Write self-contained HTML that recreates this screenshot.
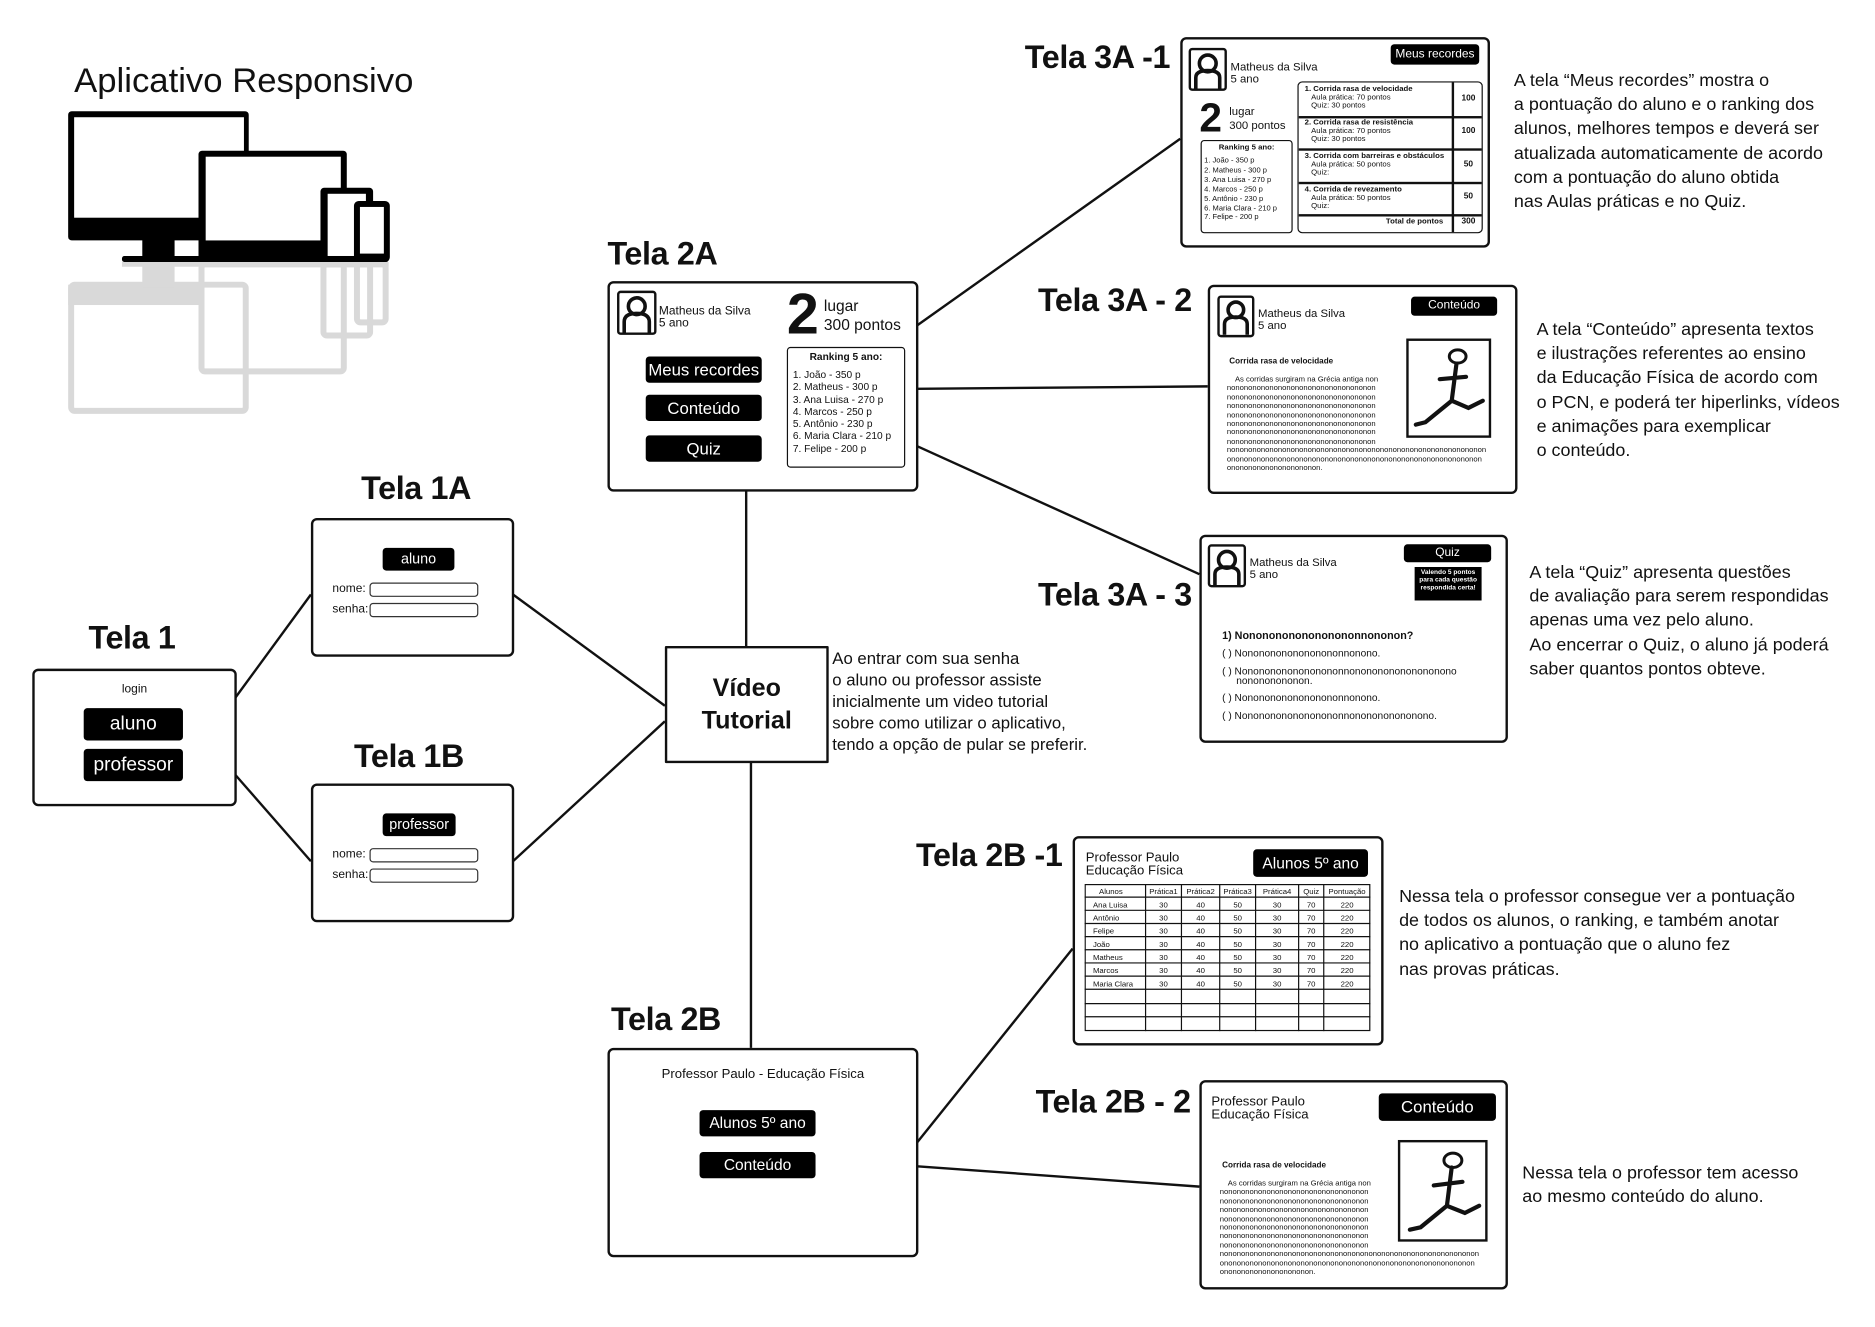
<!DOCTYPE html>
<html><head><meta charset="utf-8"><style>
html,body{margin:0;padding:0;background:#fff;width:1875px;height:1326px;overflow:hidden}
#c{position:absolute;left:0;top:0;width:1568px;height:1109px;transform:scale(1.1958,1.1962);transform-origin:0 0;font-family:"Liberation Sans Narrow","Liberation Sans",sans-serif;color:#111}
.a{position:absolute}
.box{position:absolute;border:2px solid #111;border-radius:5px;background:#fff;box-sizing:border-box}
.lbl{position:absolute;font-family:"Liberation Sans Narrow","Liberation Sans",sans-serif;font-weight:bold;font-size:27px;white-space:nowrap;letter-spacing:-0.3px}
.btn{position:absolute;background:#000;color:#fff;border-radius:3px;text-align:center;white-space:nowrap}
.t{position:absolute;white-space:nowrap}
.note{position:absolute;font-size:15px;line-height:20.2px;white-space:nowrap}
.inp{position:absolute;border:1px solid #333;border-radius:3px;height:10px;width:89px}
.av{position:absolute;border:2px solid #111;border-radius:3px;box-sizing:border-box}
.filler{position:absolute;font-size:6.4px;line-height:7.4px;white-space:pre}
</style></head><body><div id="c">
<svg class="a" style="left:0;top:0" width="1560" height="1103">
<g stroke="#111" stroke-width="2" fill="none">
<line x1="197" y1="583" x2="260" y2="497"/>
<line x1="197" y1="648" x2="260" y2="720"/>
<line x1="429" y1="497" x2="556" y2="590"/>
<line x1="429" y1="720" x2="556" y2="603"/>
<line x1="624" y1="540" x2="624" y2="410"/>
<line x1="628" y1="637" x2="628" y2="876"/>
<line x1="767" y1="272" x2="987" y2="116"/>
<line x1="767" y1="325" x2="1010" y2="323"/>
<line x1="767" y1="373" x2="1003" y2="480"/>
<line x1="767" y1="955" x2="897" y2="793"/>
<line x1="767" y1="975" x2="1003" y2="992"/>
</g>
<g stroke="#d9d9d9" stroke-width="5" fill="none">
<rect x="59.5" y="238" width="146" height="105.5" rx="3"/>
<rect x="168.5" y="221" width="119" height="89.5" rx="3"/>
<rect x="270.5" y="221" width="39" height="59.5" rx="3"/>
<rect x="298.5" y="221" width="24" height="48.5" rx="3"/>
</g>
<g fill="#d9d9d9">
<rect x="57" y="238" width="111" height="17"/>
<rect x="119" y="219" width="27" height="21"/>
<rect x="102" y="219" width="223" height="4"/>
</g>
<rect x="57" y="93" width="151" height="108" rx="3" fill="#000"/>
<rect x="62" y="98" width="142" height="84" fill="#fff"/>
<rect x="119" y="200" width="27" height="18" fill="#000"/>
<rect x="102" y="214" width="223" height="5" rx="2" fill="#000"/>
<rect x="166" y="126" width="124" height="93" rx="3" fill="#000"/>
<rect x="172" y="131" width="113" height="70" fill="#fff"/>
<rect x="268" y="157" width="44" height="62" rx="3" fill="#000"/>
<rect x="274" y="162" width="32" height="52" fill="#fff"/>
<rect x="296" y="168" width="30" height="51" rx="4" fill="#000"/>
<rect x="301" y="173" width="20" height="39" fill="#fff"/>
</svg>

<div class="t" style="left:62px;top:52px;font-size:29px">Aplicativo Responsivo</div>

<div class="lbl" style="left:74px;top:518px">Tela 1</div>
<div class="box" style="left:27px;top:559px;width:171px;height:115px"></div>
<div class="t" style="left:27px;top:571px;width:171px;text-align:center;font-size:10px">login</div>
<div class="btn" style="left:70px;top:592px;width:83px;height:27px;line-height:27px;font-size:16px">aluno</div>
<div class="btn" style="left:70px;top:626px;width:83px;height:27px;line-height:27px;font-size:16px">professor</div>

<div class="lbl" style="left:302px;top:393px">Tela 1A</div>
<div class="box" style="left:260px;top:433px;width:170px;height:116px"></div>
<div class="btn" style="left:320px;top:458px;width:60px;height:19px;line-height:19px;font-size:12px">aluno</div>
<div class="t" style="left:278px;top:487px;font-size:10px">nome:</div><div class="inp" style="left:309px;top:487px"></div>
<div class="t" style="left:278px;top:504px;font-size:10px">senha:</div><div class="inp" style="left:309px;top:504px"></div>

<div class="lbl" style="left:296px;top:617px">Tela 1B</div>
<div class="box" style="left:260px;top:655px;width:170px;height:116px"></div>
<div class="btn" style="left:320px;top:680px;width:61px;height:19px;line-height:19px;font-size:12px">professor</div>
<div class="t" style="left:278px;top:709px;font-size:10px">nome:</div><div class="inp" style="left:309px;top:709px"></div>
<div class="t" style="left:278px;top:726px;font-size:10px">senha:</div><div class="inp" style="left:309px;top:726px"></div>

<div class="box" style="left:556px;top:540px;width:137px;height:98px;border-radius:1px"></div>
<div class="t" style="left:556px;top:562px;width:137px;text-align:center;font-weight:bold;font-size:21px;line-height:27px">Vídeo<br>Tutorial</div>
<div class="note" style="left:696px;top:541px;font-size:14px;line-height:18px">Ao entrar com sua senha<br>o aluno ou professor assiste<br>inicialmente um video tutorial<br>sobre como utilizar o aplicativo,<br>tendo a opção de pular se preferir.</div>

<div class="lbl" style="left:508px;top:197px">Tela 2A</div>
<div class="box" style="left:508px;top:235px;width:260px;height:176px"></div>
<div class="av" style="left:516px;top:243px;width:33px;height:37px"><svg width="29" height="33"><circle cx="14.5" cy="11" r="7" fill="none" stroke="#111" stroke-width="3"/><path d="M4 33 V24 Q4 17 14.5 17 Q25 17 25 24 V33" fill="none" stroke="#111" stroke-width="3"/></svg></div>
<div class="t" style="left:551px;top:256px;font-size:10px;line-height:10px">Matheus da Silva<br>5 ano</div>
<div class="t" style="left:658px;top:236px;font-size:48px;font-weight:bold;font-family:'Liberation Sans',sans-serif">2</div>
<div class="t" style="left:689px;top:248px;font-size:13px;line-height:16px">lugar<br>300 pontos</div>
<div class="btn" style="left:540px;top:298px;width:97px;height:22px;line-height:22px;font-size:14px">Meus recordes</div>
<div class="btn" style="left:540px;top:330px;width:97px;height:22px;line-height:22px;font-size:14px">Conteúdo</div>
<div class="btn" style="left:540px;top:364px;width:97px;height:22px;line-height:22px;font-size:14px">Quiz</div>
<div class="box" style="left:658px;top:290px;width:99px;height:101px;border-width:1.5px;border-radius:3px"></div>
<div class="t" style="left:658px;top:293px;width:99px;text-align:center;font-size:8.5px;font-weight:bold">Ranking 5 ano:</div>
<div class="t" style="left:663px;top:308px;font-size:8.5px;line-height:10.3px">1. João - 350 p<br>2. Matheus - 300 p<br>3. Ana Luisa - 270 p<br>4. Marcos - 250 p<br>5. Antônio - 230 p<br>6. Maria Clara - 210 p<br>7. Felipe - 200 p</div>

<div class="lbl" style="left:511px;top:837px">Tela 2B</div>
<div class="box" style="left:508px;top:876px;width:260px;height:175px"></div>
<div class="t" style="left:508px;top:892px;width:260px;text-align:center;font-size:11px">Professor Paulo - Educação Física</div>
<div class="btn" style="left:585px;top:928px;width:97px;height:22px;line-height:22px;font-size:13px">Alunos 5º ano</div>
<div class="btn" style="left:585px;top:963px;width:97px;height:22px;line-height:22px;font-size:13px">Conteúdo</div>

<div class="lbl" style="left:857px;top:33px">Tela 3A -1</div>
<div class="box" style="left:987px;top:31px;width:259px;height:176px"></div>
<div class="av" style="left:994px;top:40px;width:32px;height:36px"><svg width="28" height="32"><circle cx="14" cy="11" r="7" fill="none" stroke="#111" stroke-width="3"/><path d="M4 32 V23 Q4 17 14 17 Q24 17 24 23 V32" fill="none" stroke="#111" stroke-width="3"/></svg></div>
<div class="t" style="left:1029px;top:52px;font-size:9.5px;line-height:10px">Matheus da Silva<br>5 ano</div>
<div class="btn" style="left:1163px;top:37px;width:74px;height:17px;line-height:17px;font-size:10px">Meus recordes</div>
<div class="t" style="left:1003px;top:80px;font-size:34px;font-weight:bold;font-family:'Liberation Sans',sans-serif">2</div>
<div class="t" style="left:1028px;top:88px;font-size:9.5px;line-height:12px">lugar<br>300 pontos</div>
<div class="box" style="left:1004px;top:117px;width:77px;height:78px;border-width:1.5px;border-radius:3px"></div>
<div class="t" style="left:1004px;top:120px;width:77px;text-align:center;font-size:6.5px;font-weight:bold">Ranking 5 ano:</div>
<div class="t" style="left:1007px;top:131px;font-size:6.3px;line-height:7.9px">1. João - 350 p<br>2. Matheus - 300 p<br>3. Ana Luisa - 270 p<br>4. Marcos - 250 p<br>5. Antônio - 230 p<br>6. Maria Clara - 210 p<br>7. Felipe - 200 p</div>
<div class="box" style="left:1085px;top:68px;width:155px;height:127px;border-width:1.5px;border-radius:4px;overflow:hidden">
<div class="a" style="left:128px;top:0;width:1.5px;height:127px;background:#111"></div>
<div class="a" style="left:0;top:28px;width:155px;height:1.5px;background:#111"></div>
<div class="a" style="left:0;top:55px;width:155px;height:1.5px;background:#111"></div>
<div class="a" style="left:0;top:83px;width:155px;height:1.5px;background:#111"></div>
<div class="a" style="left:0;top:110px;width:155px;height:1.5px;background:#111"></div>
<div class="t" style="left:5px;top:2px;font-size:6.5px;line-height:7px"><b>1. Corrida rasa de velocidade</b><br>&nbsp;&nbsp;&nbsp;Aula prática: 70 pontos<br>&nbsp;&nbsp;&nbsp;Quiz: 30 pontos</div>
<div class="t" style="left:5px;top:30px;font-size:6.5px;line-height:7px"><b>2. Corrida rasa de resistência</b><br>&nbsp;&nbsp;&nbsp;Aula prática: 70 pontos<br>&nbsp;&nbsp;&nbsp;Quiz: 30 pontos</div>
<div class="t" style="left:5px;top:58px;font-size:6.5px;line-height:7px"><b>3. Corrida com barreiras e obstáculos</b><br>&nbsp;&nbsp;&nbsp;Aula prática: 50 pontos<br>&nbsp;&nbsp;&nbsp;Quiz:</div>
<div class="t" style="left:5px;top:86px;font-size:6.5px;line-height:7px"><b>4. Corrida de revezamento</b><br>&nbsp;&nbsp;&nbsp;Aula prática: 50 pontos<br>&nbsp;&nbsp;&nbsp;Quiz:</div>
<div class="t" style="left:73px;top:113px;font-size:6.5px;font-weight:bold">Total de pontos</div>
<div class="t" style="left:130px;top:10px;width:24px;text-align:center;font-size:7px;font-weight:bold">100</div>
<div class="t" style="left:130px;top:37px;width:24px;text-align:center;font-size:7px;font-weight:bold">100</div>
<div class="t" style="left:130px;top:65px;width:24px;text-align:center;font-size:7px;font-weight:bold">50</div>
<div class="t" style="left:130px;top:92px;width:24px;text-align:center;font-size:7px;font-weight:bold">50</div>
<div class="t" style="left:130px;top:113px;width:24px;text-align:center;font-size:7px;font-weight:bold">300</div>
</div>
<div class="note" style="left:1266px;top:58px">A tela “Meus recordes” mostra o<br>a pontuação do aluno e o ranking dos<br>alunos, melhores tempos e deverá ser<br>atualizada automaticamente de acordo<br>com a pontuação do aluno obtida<br>nas Aulas práticas e no Quiz.</div>

<div class="lbl" style="left:868px;top:236px">Tela 3A - 2</div>
<div class="box" style="left:1010px;top:238px;width:259px;height:175px"></div>
<div class="av" style="left:1018px;top:247px;width:31px;height:35px"><svg width="27" height="31"><circle cx="13.5" cy="10" r="6.5" fill="none" stroke="#111" stroke-width="3"/><path d="M4 31 V22 Q4 16 13.5 16 Q23 16 23 22 V31" fill="none" stroke="#111" stroke-width="3"/></svg></div>
<div class="t" style="left:1052px;top:258px;font-size:9.5px;line-height:10px">Matheus da Silva<br>5 ano</div>
<div class="btn" style="left:1180px;top:248px;width:72px;height:16px;line-height:16px;font-size:10px">Conteúdo</div>
<div class="t" style="left:1028px;top:299px;font-size:6.8px;font-weight:bold">Corrida rasa de velocidade</div>
<div class="filler" style="left:1026px;top:314px">    As corridas surgiram na Grécia antiga non
nononononononononononononononononon
nononononononononononononononononon
nononononononononononononononononon
nononononononononononononononononon
nononononononononononononononononon
nononononononononononononononononon
nononononononononononononononononon
nonononononononononononononononononononononononononononononon
onononononononononononononononononononononononononononononon
ononononononononononon.</div>
<div class="a" style="left:1176px;top:283px;width:71px;height:83px;border:2px solid #111;box-sizing:border-box"><svg width="67" height="79" fill="none" stroke="#111" stroke-width="3.5" stroke-linecap="round"><ellipse cx="41" cy="13" rx="7" ry="5.5" stroke-width="2.5"/><path d="M40 19 L36 50 L14 68 L6 70 M36 50 L50 56 L62 50 M26 32 L48 30"/></svg></div>
<div class="note" style="left:1285px;top:266px">A tela “Conteúdo” apresenta textos<br>e ilustrações referentes ao ensino<br>da Educação Física de acordo com<br>o PCN, e poderá ter hiperlinks, vídeos<br>e animações para exemplicar<br>o conteúdo.</div>

<div class="lbl" style="left:868px;top:482px">Tela 3A - 3</div>
<div class="box" style="left:1003px;top:447px;width:258px;height:174px"></div>
<div class="av" style="left:1010px;top:455px;width:32px;height:36px"><svg width="28" height="32"><circle cx="14" cy="11" r="7" fill="none" stroke="#111" stroke-width="3"/><path d="M4 32 V23 Q4 17 14 17 Q24 17 24 23 V32" fill="none" stroke="#111" stroke-width="3"/></svg></div>
<div class="t" style="left:1045px;top:466px;font-size:9.5px;line-height:10px">Matheus da Silva<br>5 ano</div>
<div class="btn" style="left:1174px;top:455px;width:73px;height:15px;line-height:15px;font-size:10px">Quiz</div>
<div class="a" style="left:1183px;top:474px;width:56px;height:28px;background:#000;color:#fff;font-size:5.5px;line-height:6.3px;font-weight:bold;text-align:center;padding-top:2px;box-sizing:border-box">Valendo 5 pontos<br>para cada questão<br>respondida certa!</div>
<div class="t" style="left:1022px;top:526px;font-size:9px;font-weight:bold">1) Nonononononononononnononon?</div>
<div class="t" style="left:1022px;top:542px;font-size:8.5px;line-height:8px">( ) Nonononononononononnonono.</div>
<div class="t" style="left:1022px;top:557px;font-size:8.5px;line-height:8px">( ) Nonononononononononnononononononononono<br>&nbsp;&nbsp;&nbsp;&nbsp;&nbsp;nonononononon.</div>
<div class="t" style="left:1022px;top:579px;font-size:8.5px;line-height:8px">( ) Nonononononononononnonono.</div>
<div class="t" style="left:1022px;top:594px;font-size:8.5px;line-height:8px">( ) Nonononononononononnononononononono.</div>
<div class="note" style="left:1279px;top:469px">A tela “Quiz” apresenta questões<br>de avaliação para serem respondidas<br>apenas uma vez pelo aluno.<br>Ao encerrar o Quiz, o aluno já poderá<br>saber quantos pontos obteve.</div>

<div class="lbl" style="left:766px;top:700px">Tela 2B -1</div>
<div class="box" style="left:897px;top:699px;width:260px;height:175px"></div>
<div class="t" style="left:908px;top:712px;font-size:11px;line-height:11px">Professor Paulo<br>Educação Física</div>
<div class="btn" style="left:1048px;top:710px;width:96px;height:23px;line-height:23px;font-size:13px">Alunos 5º ano</div>
<svg class="a" style="left:907px;top:739px" width="240" height="124">
<g stroke="#111" stroke-width="1" fill="none">
<rect x="0.5" y="0.5" width="238" height="122"/>
<line x1="0" y1="11" x2="239" y2="11"/><line x1="0" y1="22" x2="239" y2="22"/><line x1="0" y1="33" x2="239" y2="33"/><line x1="0" y1="44" x2="239" y2="44"/><line x1="0" y1="55" x2="239" y2="55"/><line x1="0" y1="66" x2="239" y2="66"/><line x1="0" y1="77" x2="239" y2="77"/><line x1="0" y1="88" x2="239" y2="88"/><line x1="0" y1="100" x2="239" y2="100"/><line x1="0" y1="111" x2="239" y2="111"/>
<line x1="51" y1="0" x2="51" y2="123"/><line x1="81" y1="0" x2="81" y2="123"/><line x1="113" y1="0" x2="113" y2="123"/><line x1="143" y1="0" x2="143" y2="123"/><line x1="179" y1="0" x2="179" y2="123"/><line x1="200" y1="0" x2="200" y2="123"/>
</g>
<g font-family="Liberation Sans Narrow, Liberation Sans, sans-serif" font-size="6.5" fill="#111" text-anchor="middle">
<text x="22" y="8.5">Alunos</text><text x="66" y="8.5">Prática1</text><text x="97" y="8.5">Prática2</text><text x="128" y="8.5">Prática3</text><text x="161" y="8.5">Prática4</text><text x="189.5" y="8.5">Quiz</text><text x="219.5" y="8.5">Pontuação</text>
</g>
<g font-family="Liberation Sans Narrow, Liberation Sans, sans-serif" font-size="6.5" fill="#111">
<text x="7" y="19.5">Ana Luisa</text><text x="7" y="30.5">Antônio</text><text x="7" y="41.5">Felipe</text><text x="7" y="52.5">João</text><text x="7" y="63.5">Matheus</text><text x="7" y="74.5">Marcos</text><text x="7" y="85.5">Maria Clara</text>
</g>
<g font-family="Liberation Sans Narrow, Liberation Sans, sans-serif" font-size="6.5" fill="#111" text-anchor="middle">
<text x="66" y="19.5">30</text><text x="97" y="19.5">40</text><text x="128" y="19.5">50</text><text x="161" y="19.5">30</text><text x="189.5" y="19.5">70</text><text x="219.5" y="19.5">220</text>
<text x="66" y="30.5">30</text><text x="97" y="30.5">40</text><text x="128" y="30.5">50</text><text x="161" y="30.5">30</text><text x="189.5" y="30.5">70</text><text x="219.5" y="30.5">220</text>
<text x="66" y="41.5">30</text><text x="97" y="41.5">40</text><text x="128" y="41.5">50</text><text x="161" y="41.5">30</text><text x="189.5" y="41.5">70</text><text x="219.5" y="41.5">220</text>
<text x="66" y="52.5">30</text><text x="97" y="52.5">40</text><text x="128" y="52.5">50</text><text x="161" y="52.5">30</text><text x="189.5" y="52.5">70</text><text x="219.5" y="52.5">220</text>
<text x="66" y="63.5">30</text><text x="97" y="63.5">40</text><text x="128" y="63.5">50</text><text x="161" y="63.5">30</text><text x="189.5" y="63.5">70</text><text x="219.5" y="63.5">220</text>
<text x="66" y="74.5">30</text><text x="97" y="74.5">40</text><text x="128" y="74.5">50</text><text x="161" y="74.5">30</text><text x="189.5" y="74.5">70</text><text x="219.5" y="74.5">220</text>
<text x="66" y="85.5">30</text><text x="97" y="85.5">40</text><text x="128" y="85.5">50</text><text x="161" y="85.5">30</text><text x="189.5" y="85.5">70</text><text x="219.5" y="85.5">220</text>
</g>
</svg>
<div class="note" style="left:1170px;top:740px">Nessa tela o professor consegue ver a pontuação<br>de todos os alunos, o ranking, e também anotar<br>no aplicativo a pontuação que o aluno fez<br>nas provas práticas.</div>

<div class="lbl" style="left:866px;top:906px">Tela 2B - 2</div>
<div class="box" style="left:1003px;top:903px;width:258px;height:175px"></div>
<div class="t" style="left:1013px;top:916px;font-size:11px;line-height:11px">Professor Paulo<br>Educação Física</div>
<div class="btn" style="left:1153px;top:914px;width:98px;height:23px;line-height:23px;font-size:14px">Conteúdo</div>
<div class="t" style="left:1022px;top:971px;font-size:6.8px;font-weight:bold">Corrida rasa de velocidade</div>
<div class="filler" style="left:1020px;top:986px">    As corridas surgiram na Grécia antiga non
nononononononononononononononononon
nononononononononononononononononon
nononononononononononononononononon
nononononononononononononononononon
nononononononononononononononononon
nononononononononononononononononon
nononononononononononononononononon
nonononononononononononononononononononononononononononononon
onononononononononononononononononononononononononononononon
ononononononononononon.</div>
<div class="a" style="left:1169px;top:953px;width:75px;height:85px;border:2px solid #111;box-sizing:border-box"><svg width="71" height="81" fill="none" stroke="#111" stroke-width="3.5" stroke-linecap="round"><ellipse cx="44" cy="15" rx="7.5" ry="6" stroke-width="2.5"/><path d="M43 21 L39 53 L17 71 L8 73 M39 53 L54 59 L66 53 M28 36 L52 33"/></svg></div>
<div class="note" style="left:1273px;top:971px">Nessa tela o professor tem acesso<br>ao mesmo conteúdo do aluno.</div>
</div></body></html>
